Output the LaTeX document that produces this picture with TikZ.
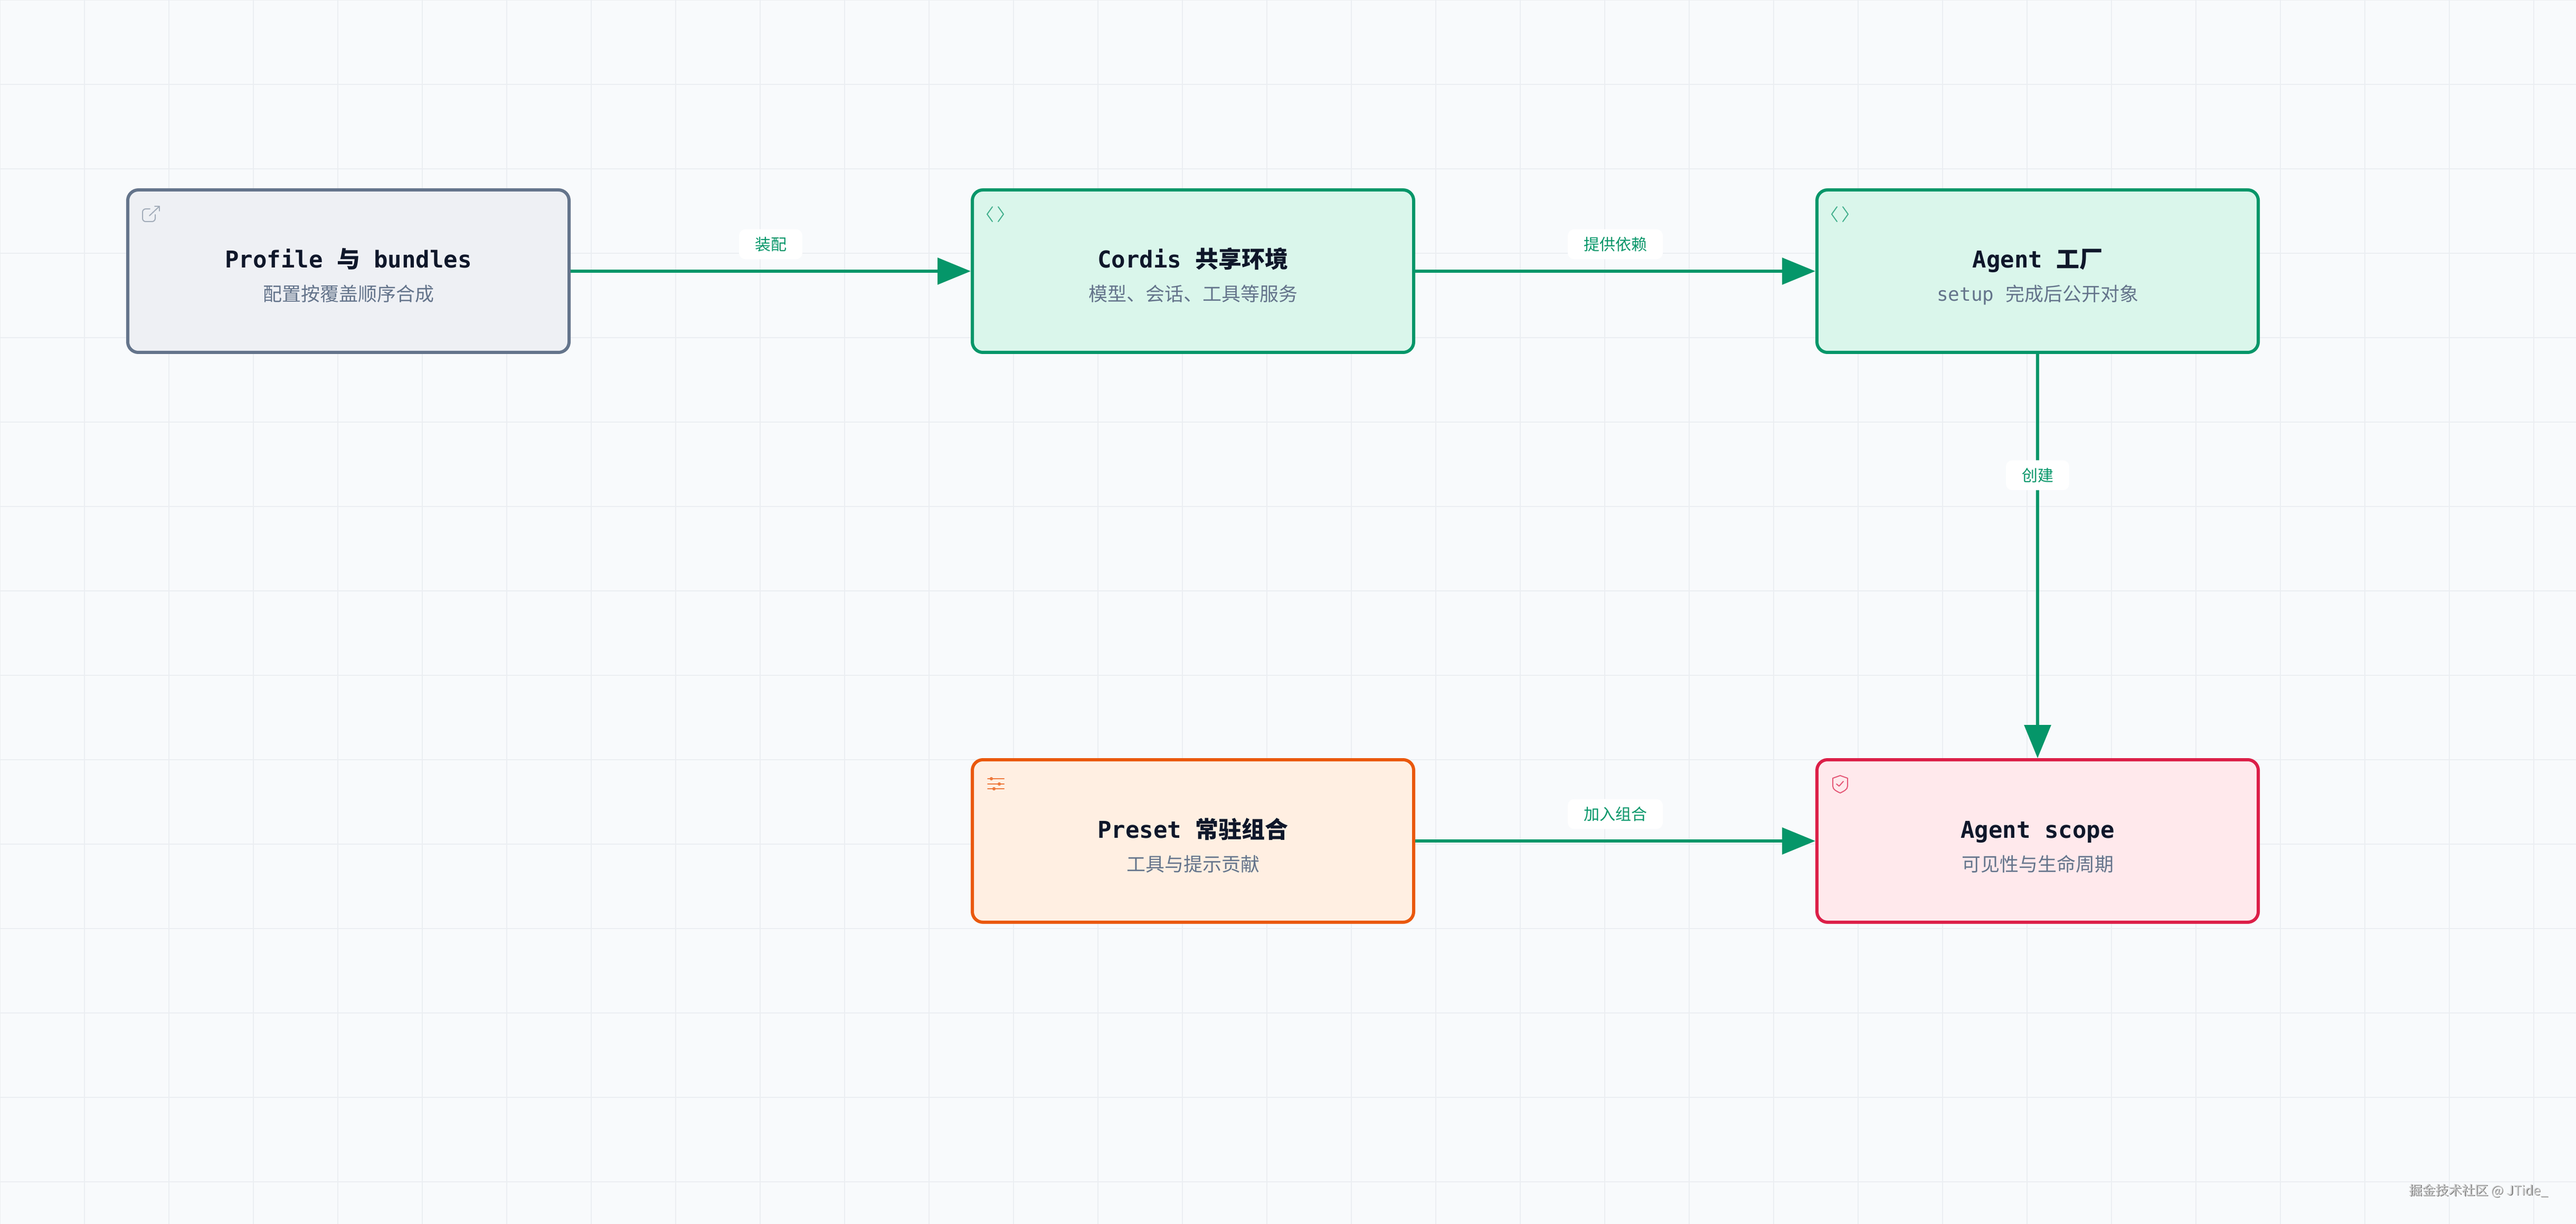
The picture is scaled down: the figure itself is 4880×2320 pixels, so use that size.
\documentclass[tikz,border=0pt]{standalone}
\usepackage{fontspec}
\newfontfamily\cjk{Noto Sans CJK SC}
\newfontfamily\mono{DejaVu Sans Mono}
\usetikzlibrary{arrows.meta}
\definecolor{bgc}{HTML}{F8FAFC}
\definecolor{gridc}{HTML}{EBEEF2}
\definecolor{slateB}{HTML}{64748B}
\definecolor{slateF}{HTML}{EEF0F4}
\definecolor{greenB}{HTML}{059669}
\definecolor{greenF}{HTML}{DAF6EB}
\definecolor{orangeB}{HTML}{EA580C}
\definecolor{orangeF}{HTML}{FFEFE2}
\definecolor{roseB}{HTML}{DC1F48}
\definecolor{roseF}{HTML}{FFE9EC}
\definecolor{ink}{HTML}{0F172A}
\definecolor{subc}{HTML}{64748B}
\definecolor{wmdark}{HTML}{7C7C7C}
\definecolor{wmlight}{HTML}{CFCFCF}
\begin{document}
\begin{tikzpicture}[x=0.25pt,y=-0.25pt,
  gridline/.style={draw=gridc, line width=0.55pt},
  box/.style={rectangle, rounded corners=5pt, line width=1.5pt,
    minimum width=209pt, minimum height=77pt, inner sep=0pt},
  titletext/.style={text=ink, font=\mono\bfseries\fontsize{11pt}{13pt}\selectfont, inner sep=0pt, anchor=base},
  subtext/.style={text=subc, font=\cjk\fontsize{9pt}{11pt}\selectfont, inner sep=0pt, anchor=base},
  edgeline/.style={draw=greenB, line width=1.5pt, -{Triangle[length=15.75pt, width=12.5pt]}},
  lab/.style={fill=white, rounded corners=3pt, text=greenB,
    font=\cjk\fontsize{7.5pt}{9pt}\selectfont, inner xsep=7.5pt, inner ysep=0pt,
    text height=6.2pt, text depth=0.5pt, minimum height=14.2pt},
  icon/.style={line width=0.5pt, line cap=round, line join=round},
  wm/.style={font=\cjk\fontsize{6.25pt}{7.5pt}\selectfont, inner sep=0pt, anchor=base east}
]
\useasboundingbox (0,0) rectangle (4880,2320);
\fill[bgc] (0,0) rectangle (4880,2320);
\foreach \gx in {0,160,...,4800} { \draw[gridline] (\gx,0) -- (\gx,2320); }
\foreach \gy in {0,160,...,2240} { \draw[gridline] (0,\gy) -- (4880,\gy); }

% boxes
\node[box, draw=slateB, fill=slateF] (pf) at (660,514) {};
\node[box, draw=greenB, fill=greenF] (cd) at (2260,514) {};
\node[box, draw=greenB, fill=greenF] (ag) at (3860,514) {};
\node[box, draw=orangeB, fill=orangeF] (pr) at (2260,1594) {};
\node[box, draw=roseB, fill=roseF] (sc) at (3860,1594) {};

% titles and subtitles
\node[titletext] (pft) at (660,508) {Profile {\cjk 与} bundles};
\node[subtext] (pfs) at (660,571) {配置按覆盖顺序合成};
\node[titletext] (cdt) at (2260,508) {Cordis {\cjk 共享环境}};
\node[subtext] (cds) at (2260,571) {模型、会话、工具等服务};
\node[titletext] (agt) at (3860,508) {Agent {\cjk 工厂}};
\node[subtext] (ags) at (3860,571) {{\mono setup }完成后公开对象};
\node[titletext] (prt) at (2260,1588) {Preset {\cjk 常驻组合}};
\node[subtext] (prs) at (2260,1651) {工具与提示贡献};
\node[titletext] (sct) at (3860,1588) {Agent scope};
\node[subtext] (scs) at (3860,1651) {可见性与生命周期};

% icons
\begin{scope}[icon, draw=slateB!60]
  \draw[rounded corners=1.5pt] (284,396) -- (270,396) -- (270,420) -- (294,420) -- (294,407);
  \draw (283,409) -- (302,391);
  \draw (293,391) -- (302,391) -- (302,400);
\end{scope}
\begin{scope}[icon, draw=greenB!75]
  \draw (1880,392) -- (1870,406) -- (1880,420);
  \draw (1891,392) -- (1901,406) -- (1891,420);
  \draw (3480,392) -- (3470,406) -- (3480,420);
  \draw (3491,392) -- (3501,406) -- (3491,420);
\end{scope}
\begin{scope}[icon, draw=orangeB!80, fill=orangeB!80]
  \draw (1871,1476) -- (1902,1476);
  \draw (1871,1486) -- (1902,1486);
  \draw (1871,1495) -- (1902,1495);
  \fill (1878,1476) circle (3.2);
  \fill (1893,1486) circle (3.2);
  \fill (1883,1495) circle (3.2);
\end{scope}
\begin{scope}[icon, draw=roseB!75]
  \draw (3486,1470) -- (3500,1475) -- (3500,1490) .. controls (3500,1497) and (3492,1500) .. (3486,1503)
        .. controls (3480,1500) and (3472,1497) .. (3472,1490) -- (3472,1475) -- cycle;
  \draw (3479,1486) -- (3484,1490) -- (3492,1481);
\end{scope}

% connectors
\draw[edgeline] (pf) -- (cd) node[lab, midway, yshift=12.75pt] (l1) {装配};
\draw[edgeline] (cd) -- (ag) node[lab, midway, yshift=12.75pt] (l2) {提供依赖};
\draw[edgeline] (ag) -- (sc) node[lab, pos=0.3] (l3) {创建};
\draw[edgeline] (pr) -- (sc) node[lab, midway, yshift=12.75pt] (l4) {加入组合};

% watermark
\node[wm, text=wmdark] (wms) at (4829.5,2266.5) {掘金技术社区 @ JTide\_};
\node[wm, text=wmlight] (wmt) at (4828,2265) {掘金技术社区 @ JTide\_};
\end{tikzpicture}
\end{document}
